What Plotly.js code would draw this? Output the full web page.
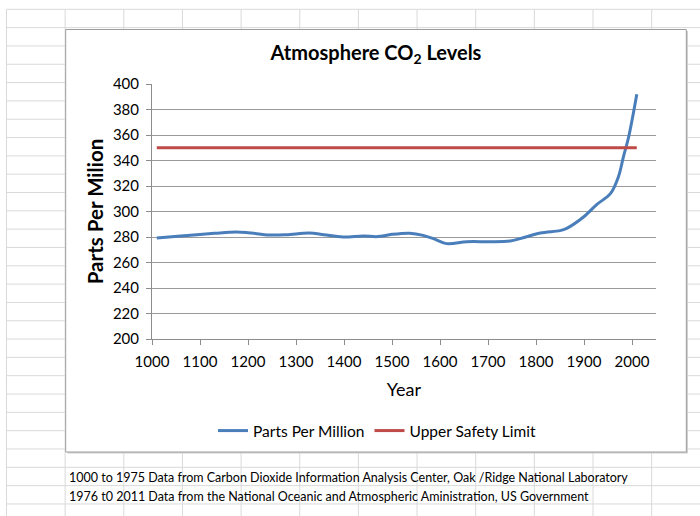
<!DOCTYPE html>
<html>
<head>
<meta charset="utf-8">
<script src="https://cdn.plot.ly/plotly-3.0.1.min.js"></script>
<style>
  html, body { margin: 0; padding: 0; background: #ffffff; }
  #chart { width: 700px; height: 516px; }
</style>
</head>
<body>
<div id="chart"></div>
<script>
// ---- data ----
var years = [1010, 1060, 1130, 1175, 1200, 1245, 1280, 1328, 1358, 1398, 1440, 1470, 1500, 1537, 1565, 1590, 1614, 1656, 1705, 1746, 1767, 1809, 1850, 1864, 1899, 1927, 1955, 1972, 1982, 1993, 2010];
var ppm = [279.3, 280.8, 282.9, 283.9, 283.4, 281.6, 281.8, 283.1, 281.8, 280.0, 280.8, 280.3, 282.1, 283.0, 281.3, 278.2, 274.8, 276.3, 276.3, 276.9, 278.7, 283.1, 285.0, 286.8, 295.7, 305.6, 314.0, 327.6, 342.7, 358.4, 391.9];
var limitYears = [1010, 2010];
var limitValues = [350, 350];
var xTickVals = [1000, 1100, 1200, 1300, 1400, 1500, 1600, 1700, 1800, 1900, 2000];
var xTickText = ['1000', '1100', '1200', '1300', '1400', '1500', '1600', '1700', '1800', '1900', '2000'];
var yTickVals = [200, 220, 240, 260, 280, 300, 320, 340, 360, 380, 400];
var yTickText = ['200', '220', '240', '260', '280', '300', '320', '340', '360', '380', '400'];
var seriesNames = ['Parts Per Million', 'Upper Safety Limit'];
var chartTitle = 'Atmosphere CO<sub>2</sub> Levels';
var xTitle = 'Year';
var yTitle = 'Parts Per Milion';
var notes = [
  '1000 to 1975 Data from Carbon Dioxide Information Analysis Center, Oak /Ridge National Laboratory',
  '1976 t0 2011 Data from the National Oceanic and Atmospheric Aministration, US Government'
];

// ---- layout geometry (pixels) ----
var W = 700, H = 516;
var mL = 152, mR = 44, mT = 84, mB = 177;
var plotW = W - mL - mR, plotH = H - mT - mB;
function px(x) { return (x - mL) / plotW; }
function py(y) { return (H - mB - y) / plotH; }

var FONT = 'Lato, "Open Sans", sans-serif';
var shapes = [];
// spreadsheet grid
var gridCol = '#d9d9d9';
for (var k = 0; k < 12; k++) {
  var gx = 6.5 + 58.65 * k;
  shapes.push({type: 'line', xref: 'paper', yref: 'paper', x0: px(gx), x1: px(gx), y0: py(9.3), y1: py(516), line: {color: gridCol, width: 1}, layer: 'below'});
}
for (var r = 0; r < 28; r++) {
  var gy = 9.3 + 18.32 * r;
  shapes.push({type: 'line', xref: 'paper', yref: 'paper', x0: px(6.5), x1: px(700), y0: py(gy), y1: py(gy), line: {color: gridCol, width: 1}, layer: 'below'});
}
// chart box shadow and box
shapes.push({type: 'rect', xref: 'paper', yref: 'paper', x0: px(67.5), x1: px(688), y0: py(31), y1: py(453.5), line: {width: 0}, fillcolor: '#cfcfcf', layer: 'below'});
shapes.push({type: 'rect', xref: 'paper', yref: 'paper', x0: px(65.7), x1: px(686.3), y0: py(29.5), y1: py(452), line: {color: '#9e9e9e', width: 1}, fillcolor: '#ffffff', layer: 'below'});

var annotations = [
  {text: notes[0], xref: 'paper', yref: 'paper', x: px(67), y: py(478), xanchor: 'left', yanchor: 'middle', showarrow: false, font: {family: FONT, size: 12.5, color: '#000000'}},
  {text: notes[1], xref: 'paper', yref: 'paper', x: px(67), y: py(496), xanchor: 'left', yanchor: 'middle', showarrow: false, font: {family: FONT, size: 12.5, color: '#000000'}}
];

var traces = [
  {x: years, y: ppm, name: seriesNames[0], type: 'scatter', mode: 'lines', line: {color: '#4a7ebb', width: 3, shape: 'spline', smoothing: 1}},
  {x: limitYears, y: limitValues, name: seriesNames[1], type: 'scatter', mode: 'lines', line: {color: '#be4b48', width: 3}}
];

var layout = {
  width: W, height: H,
  margin: {l: mL, r: mR, t: mT, b: mB, pad: 0},
  paper_bgcolor: '#ffffff',
  plot_bgcolor: 'rgba(0,0,0,0)',
  font: {family: FONT, color: '#000000'},
  title: {text: chartTitle, font: {family: FONT, size: 20, color: '#000000', weight: 'bold'}, xref: 'container', yref: 'container', x: 376 / W, y: 1 - 53 / H, xanchor: 'center', yanchor: 'middle'},
  xaxis: {
    range: [1000, 2050], tickmode: 'array', tickvals: xTickVals, ticktext: xTickText,
    showgrid: false, zeroline: false, showline: true, linecolor: '#8c8c8c', linewidth: 1,
    ticks: 'outside', ticklen: 5, tickcolor: '#8c8c8c', ticklabelstandoff: 4, tickfont: {family: FONT, size: 15, color: '#000000'},
    title: {text: xTitle, font: {family: FONT, size: 18, color: '#000000'}, standoff: 14}
  },
  yaxis: {
    range: [200, 400], tickmode: 'array', tickvals: yTickVals, ticktext: yTickText,
    showgrid: true, gridcolor: '#9a9a9a', gridwidth: 1, zeroline: false, showline: true, linecolor: '#8c8c8c', linewidth: 1,
    ticks: 'outside', ticklen: 5, tickcolor: '#8c8c8c', ticklabelstandoff: 4, tickfont: {family: FONT, size: 15, color: '#000000'},
    title: {text: yTitle, font: {family: FONT, size: 20.5, color: '#000000', weight: 'bold'}, standoff: 3}
  },
  showlegend: true,
  legend: {orientation: 'h', xref: 'container', yref: 'container', x: 377 / W, y: 1 - 431 / H, xanchor: 'center', yanchor: 'middle', font: {family: FONT, size: 15.5, color: '#000000'}, bgcolor: 'rgba(0,0,0,0)', itemwidth: 30, tracegroupgap: 0},
  shapes: shapes,
  annotations: annotations
};

Plotly.newPlot('chart', traces, layout, {displayModeBar: false, staticPlot: true});
</script>
</body>
</html>
